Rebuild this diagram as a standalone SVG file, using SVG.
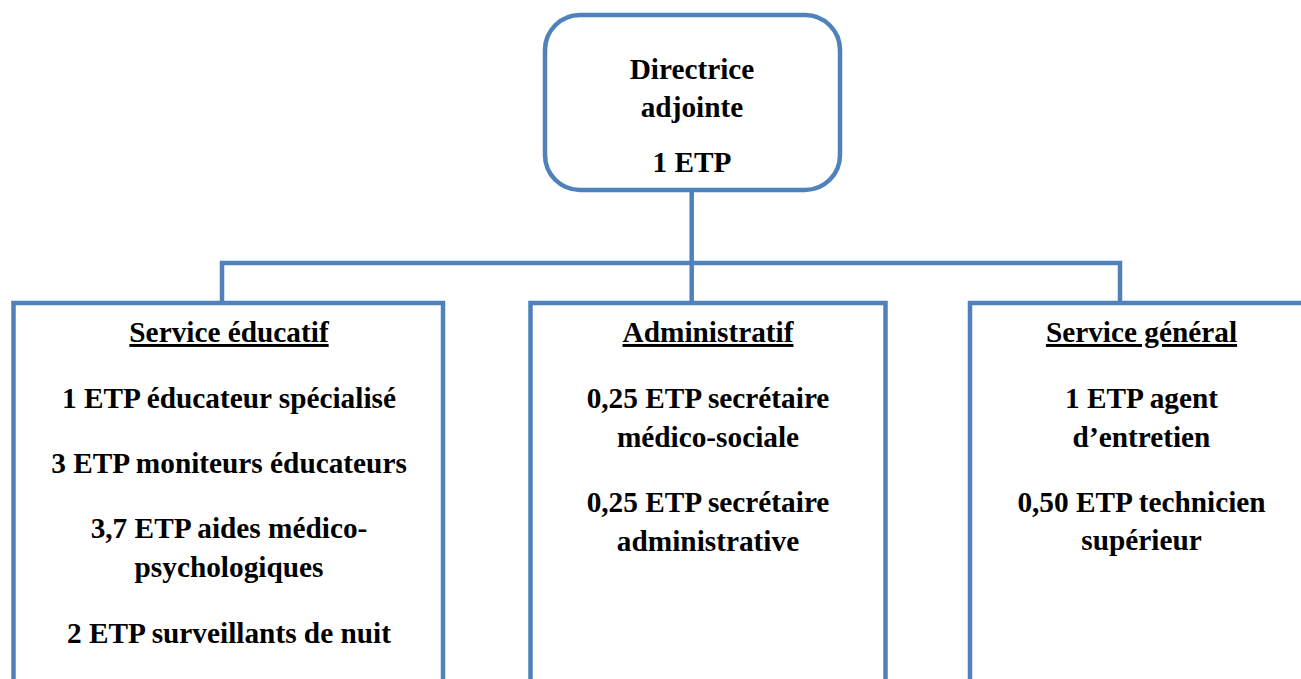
<svg xmlns="http://www.w3.org/2000/svg" width="1301" height="679" viewBox="0 0 1301 679">
<style>
.box{fill:#fff;stroke:#4F81BD;stroke-width:4.5}
.conn{fill:none;stroke:#4F81BD;stroke-width:4.5;stroke-linejoin:miter}
text{font-family:'Liberation Serif','Times New Roman',serif;font-weight:700;font-size:29.3px;fill:#000;text-anchor:middle}
.h{text-decoration:underline}
</style>
<rect width="1301" height="679" fill="#fff"/>
<g id="connectors">
<path class="conn" d="M691.7 190 V303"/>
<path class="conn" d="M222 303 V263 H1120 V303"/>
</g>
<g id="directrice">
<rect class="box" x="545" y="15" width="295" height="175" rx="35" ry="35"/>
<text x="692" y="79">Directrice</text>
<text x="692" y="117">adjointe</text>
<text x="692" y="172">1 ETP</text>
</g>
<g id="service-educatif">
<rect class="box" x="13.5" y="303" width="429.5" height="420"/>
<text class="h" x="229" y="342">Service éducatif</text>
<text x="229" y="408">1 ETP éducateur spécialisé</text>
<text x="229" y="473">3 ETP moniteurs éducateurs</text>
<text x="229" y="538">3,7 ETP aides médico-</text>
<text x="229" y="577">psychologiques</text>
<text x="229" y="643">2 ETP surveillants de nuit</text>
</g>
<g id="administratif">
<rect class="box" x="530.5" y="303" width="355" height="420"/>
<text class="h" x="708" y="342">Administratif</text>
<text x="708" y="408">0,25 ETP secrétaire</text>
<text x="708" y="447">médico-sociale</text>
<text x="708" y="512">0,25 ETP secrétaire</text>
<text x="708" y="551">administrative</text>
</g>
<g id="service-general">
<rect class="box" x="970" y="303" width="360" height="420"/>
<text class="h" x="1141.5" y="342">Service général</text>
<text x="1141.5" y="408">1 ETP agent</text>
<text x="1141.5" y="447">d’entretien</text>
<text x="1141.5" y="512">0,50 ETP technicien</text>
<text x="1141.5" y="550">supérieur</text>
</g>
</svg>
